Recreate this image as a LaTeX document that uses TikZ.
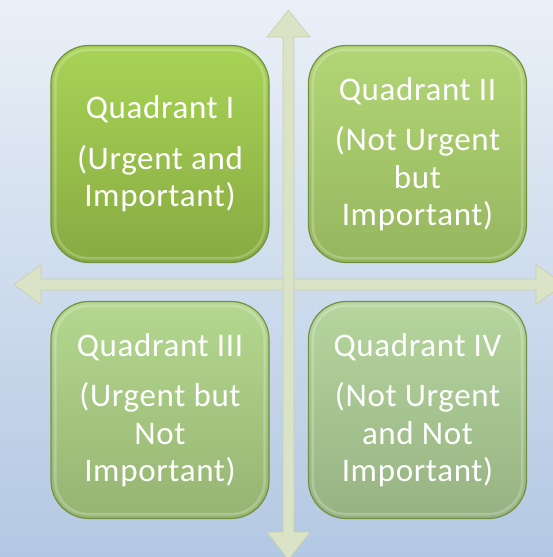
\documentclass[tikz,border=0pt]{standalone}
\usepackage{fontspec}
\setmainfont{Carlito}[LetterSpace=2]
\begin{document}
\definecolor{bgtop}{HTML}{EAF0F7}
\definecolor{bgbot}{HTML}{B3C8E3}
\definecolor{axisfill}{HTML}{DBE3C6}
\definecolor{axisedge}{HTML}{C5CFAE}
\definecolor{rim}{HTML}{738F42}
\definecolor{qatop}{HTML}{A8D456}
\definecolor{qabot}{HTML}{88AA42}
\definecolor{qbtop}{HTML}{B2D676}
\definecolor{qbbot}{HTML}{96B65E}
\definecolor{qctop}{HTML}{B4D890}
\definecolor{qcbot}{HTML}{96B472}
\definecolor{qdtop}{HTML}{B6D69E}
\definecolor{qdbot}{HTML}{96B282}
\begin{tikzpicture}[x=1pt,y=-1pt,
  quad/.style 2 args={draw=rim, line width=1.2pt, rounded corners=38pt,
    top color=#1, bottom color=#2,
    minimum width=218pt, minimum height=217pt, inner sep=4pt,
    text width=206pt, align=flush center, text=white,
    font=\fontsize{33}{37.5}\selectfont},
  bevel/.style={draw=white, draw opacity=0.22, line width=2.5pt, rounded corners=33pt},
  axis/.style={fill=axisfill, draw=axisedge, line width=0.6pt, line join=miter}]
  % page and background
  \useasboundingbox (0,0) rectangle (553,557);
  \clip (0,0) rectangle (553,557);
  \shade[top color=bgtop, bottom color=bgbot] (0,0) rectangle (553,557);

  % horizontal axis (double arrow)
  \coordinate (hl) at (14,284.5);
  \coordinate (hr) at (564,284.5);
  \path[axis] (hl) -- (41,264.5) -- (41,279) -- (536,279) -- (536,264.5)
    -- (hr) -- (536,304.5) -- (536,290) -- (41,290) -- (41,304.5) -- cycle;
  % vertical axis (double arrow)
  \coordinate (vt) at (288.5,10);
  \coordinate (vb) at (288.5,560);
  \path[axis] (vt) -- (310,37) -- (294,37) -- (294,532) -- (310,532)
    -- (vb) -- (267,532) -- (283,532) -- (283,37) -- (267,37) -- cycle;

  % the four quadrants
  \node[quad={qatop}{qabot}] (q1) at (160,154)
    {Quadrant I\\[13pt](Urgent and\\Important)};
  \node[quad={qbtop}{qbbot}] (q2) at (417.5,154)
    {Quadrant II\\[13pt](Not Urgent\\but\\Important)};
  \node[quad={qctop}{qcbot}] (q3) at (160,410)
    {Quadrant III\\[13pt](Urgent but\\Not\\Important)};
  \node[quad={qdtop}{qdbot}] (q4) at (417.5,410)
    {Quadrant IV\\[13pt](Not Urgent\\and Not\\Important)};

  % inner highlight rim of each quadrant
  \foreach \q in {q1,q2,q3,q4}{
    \draw[bevel] ([shift={(5,5)}]\q.north west) rectangle ([shift={(-5,-5)}]\q.south east);
  }
\end{tikzpicture}
\end{document}
